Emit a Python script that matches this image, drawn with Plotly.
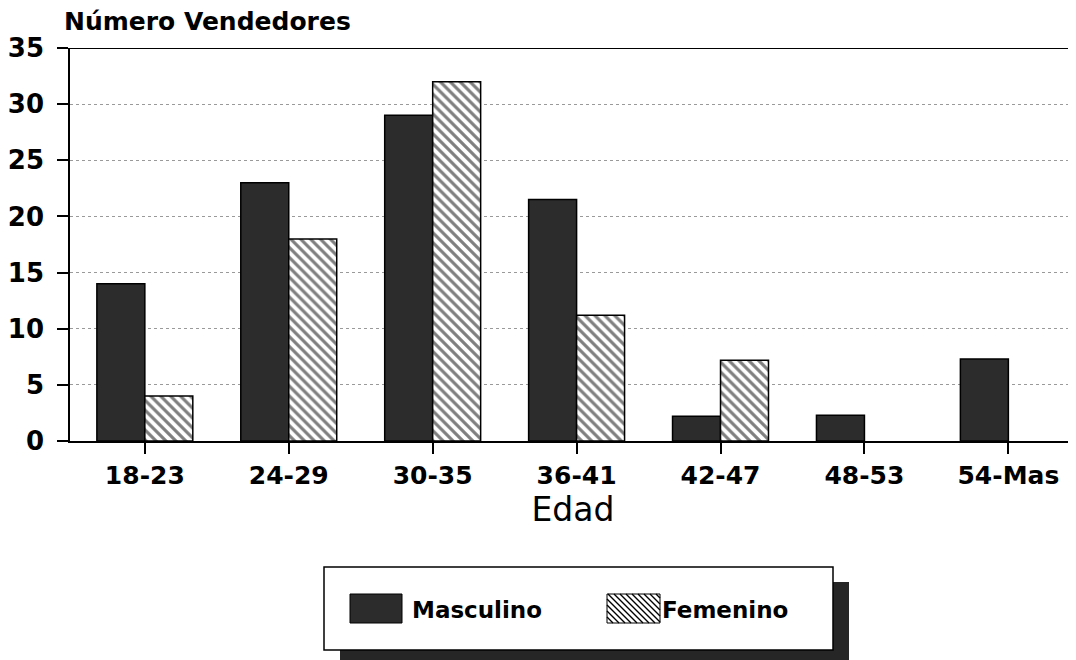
import plotly.graph_objects as go

categories = ["18-23", "24-29", "30-35", "36-41", "42-47", "48-53", "54-Mas"]
masculino = [14, 23, 29, 21.5, 2.2, 2.3, 7.3]
femenino = [4, 18, 32, 11.2, 7.2, 0, 0]
y_ticks = [0, 5, 10, 15, 20, 25, 30, 35]

# page offset (default body margin of the html page)
OFF = 8
W, H = 1076, 660
# desired plot area in viewport pixels
VL, VR, VT, VB = 70, 1076, 48, 441
L = VL - OFF
T = VT - OFF
R = W - (VR - OFF)
B = H - (VB - OFF)
PW, PH = W - L - R, H - T - B


def px(x):
    return (x - OFF - L) / PW


def py(y):
    return (H - B - (y - OFF)) / PH


FONT = "DejaVu Sans"

fig = go.Figure()
fig.add_trace(go.Bar(
    x=categories, y=masculino, name="Masculino",
    marker=dict(color="#2c2c2c",
                line=dict(color="black", width=[1.5 if v > 0 else 0 for v in masculino])),
    showlegend=False,
))
fig.add_trace(go.Bar(
    x=categories, y=femenino, name="Femenino",
    marker=dict(color="white",
                line=dict(color="black", width=[1.5 if v > 0 else 0 for v in femenino]),
                pattern=dict(shape="\\", fgcolor="black", bgcolor="white",
                             size=7, solidity=0.45)),
    showlegend=False,
))

shapes = []
shapes.append(dict(type="line", xref="paper", yref="y", x0=0, x1=1, y0=35, y1=35,
                   line=dict(color="black", width=2)))
shapes.append(dict(type="rect", xref="paper", yref="paper",
                   x0=px(340), x1=px(849), y0=py(582), y1=py(672),
                   fillcolor="#262626", line=dict(width=0)))
shapes.append(dict(type="rect", xref="paper", yref="paper",
                   x0=px(324), x1=px(833), y0=py(567), y1=py(650),
                   fillcolor="white", line=dict(color="black", width=1.5)))
shapes.append(dict(type="rect", xref="paper", yref="paper",
                   x0=px(350), x1=px(402), y0=py(594), y1=py(623),
                   fillcolor="#2c2c2c", line=dict(color="black", width=1)))
sx0, sx1, sy0, sy1 = 607, 660, 594, 623
shapes.append(dict(type="rect", xref="paper", yref="paper",
                   x0=px(sx0), x1=px(sx1), y0=py(sy0), y1=py(sy1),
                   fillcolor="white", line=dict(color="black", width=1)))
hh = sy1 - sy0
path = ""
x0 = sx0 - hh
while x0 < sx1:
    t0 = max(0, sx0 - x0)
    t1 = min(hh, sx1 - x0)
    if t1 > t0:
        path += f"M{px(x0 + t0)},{py(sy0 + t0)} L{px(x0 + t1)},{py(sy0 + t1)} "
    x0 += 6
shapes.append(dict(type="path", xref="paper", yref="paper", path=path,
                   line=dict(color="black", width=1.4)))

annotations = [
    dict(text="Número Vendedores", xref="paper", yref="paper", x=px(62), y=py(22),
         xanchor="left", yanchor="middle", showarrow=False,
         font=dict(family=FONT, size=25, weight="bold", color="black")),
    dict(text="Masculino", xref="paper", yref="paper", x=px(410), y=py(610),
         xanchor="left", yanchor="middle", showarrow=False,
         font=dict(family=FONT, size=23, weight="bold", color="black")),
    dict(text="Femenino", xref="paper", yref="paper", x=px(660), y=py(610),
         xanchor="left", yanchor="middle", showarrow=False,
         font=dict(family=FONT, size=23, weight="bold", color="black")),
]

fig.update_layout(
    width=W, height=H, autosize=False,
    margin=dict(l=L, r=R, t=T, b=B, pad=0),
    paper_bgcolor="white", plot_bgcolor="white",
    barmode="group", bargap=1/3, bargroupgap=0,
    shapes=shapes, annotations=annotations,
    showlegend=False,
    xaxis=dict(
        range=[-0.52, 6.47], showline=True, linecolor="black", linewidth=2,
        ticks="outside", ticklen=11, tickwidth=1.5, tickcolor="black",
        tickfont=dict(family=FONT, size=25, weight="bold", color="black"),
        ticklabelstandoff=0, automargin=False,
        showgrid=False,
        title=dict(text="Edad", font=dict(family=FONT, size=33, color="black"), standoff=8),
    ),
    yaxis=dict(
        range=[0, 35], tickvals=y_ticks, showline=True, linecolor="black", linewidth=1.5,
        ticks="outside", ticklen=11, tickwidth=1.5, tickcolor="black",
        tickfont=dict(family=FONT, size=26, weight="bold", color="black"),
        ticklabelstandoff=8, automargin=False,
        showgrid=True, gridcolor="#9a9a9a", griddash="dot", gridwidth=1,
        zeroline=False,
    ),
)

fig.write_html("out.html")
